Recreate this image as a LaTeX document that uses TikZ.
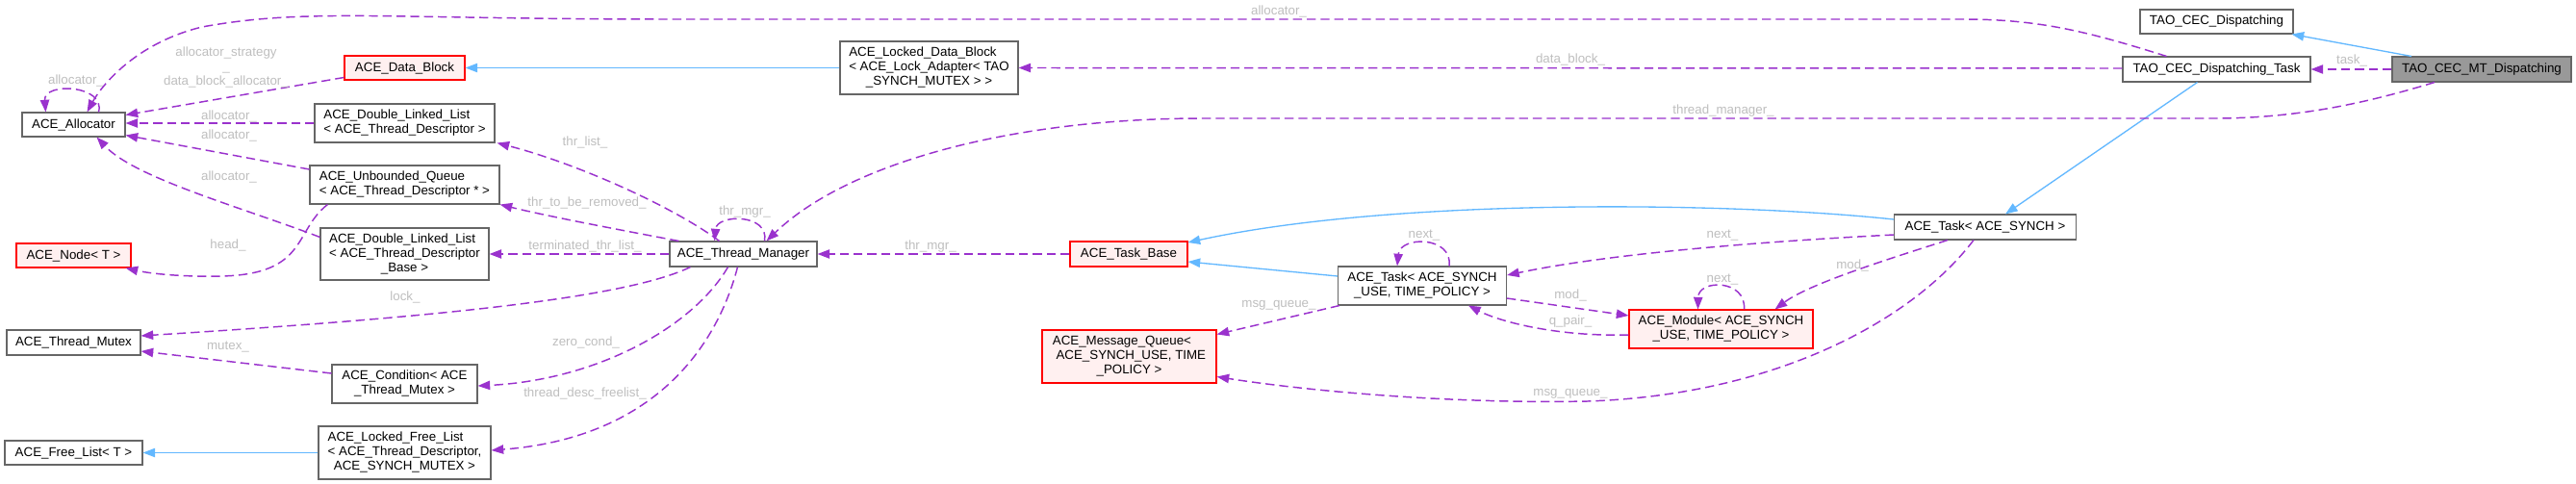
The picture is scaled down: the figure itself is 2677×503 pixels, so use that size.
\documentclass[tikz,border=0pt]{standalone}
\usepackage{fontspec}
\setmainfont{Liberation Sans}
\usetikzlibrary{arrows.meta,calc}
\definecolor{edgep}{HTML}{9A32CD}
\definecolor{edgeb}{HTML}{63B8FF}
\definecolor{bord}{HTML}{666666}
\definecolor{redfill}{HTML}{FFF0F0}
\definecolor{focusfill}{HTML}{999999}
\definecolor{lblc}{HTML}{BEBEBE}
\newcommand{\mlab}[2]{\begin{tabular}{@{}l@{}}#1\\\multicolumn{1}{@{}c@{}}{#2}\end{tabular}}
\begin{document}
\begin{tikzpicture}[x=0.75pt,y=-0.75pt,
  cls/.style={draw=bord, fill=white, line width=0.8pt, inner sep=0pt, font=\fontsize{10pt}{11.25pt}\selectfont},
  redcls/.style={cls, draw=red, fill=redfill},
  focuscls/.style={cls, fill=focusfill},
  sz/.style 2 args={minimum width=#1*0.75pt, minimum height=#2*0.75pt},
  lbl/.style={text=lblc, inner sep=0pt, align=center, font=\fontsize{10pt}{11pt}\selectfont},
  usage/.style={draw=edgep, line width=1.1pt, dash pattern=on 7pt off 3.75pt, -{Triangle[length=9.5pt,width=7pt]}},
  inherit/.style={draw=edgeb, line width=1pt, -{Triangle[length=9.5pt,width=7pt]}}]
\useasboundingbox (0,0) rectangle (2677,503);

% nodes
\node[cls,sz={107}{25}] (alloc) at (76.5,129.5) {ACE\_Allocator};
\node[redcls,sz={125}{25}] (datablock) at (420.5,70.5) {ACE\_Data\_Block};
\node[cls,sz={187}{40}] (dll1) at (420.5,128) {\mlab{ACE\_Double\_Linked\_List}{< ACE\_Thread\_Descriptor >}};
\node[cls,sz={197}{40}] (uq) at (420.5,192) {\mlab{ACE\_Unbounded\_Queue}{< ACE\_Thread\_Descriptor * >}};
\node[cls,sz={175}{54}] (dll2) at (420.5,264) {\mlab{ACE\_Double\_Linked\_List\\< ACE\_Thread\_Descriptor}{\_Base >}};
\node[redcls,sz={119}{25}] (acenode) at (76.5,265.5) {ACE\_Node< T >};
\node[cls,sz={139}{26}] (mutex) at (76.5,356) {ACE\_Thread\_Mutex};
\node[cls,sz={151}{40}] (cond) at (420.5,399) {\mlab{ACE\_Condition< ACE}{\_Thread\_Mutex >}};
\node[cls,sz={143}{25}] (freelist) at (76.5,470.5) {ACE\_Free\_List< T >};
\node[cls,sz={179}{55}] (lfl) at (420.5,470.5) {\mlab{ACE\_Locked\_Free\_List\\< ACE\_Thread\_Descriptor,}{ ACE\_SYNCH\_MUTEX >}};
\node[cls,sz={185}{55}] (ldb) at (965.5,70.5) {\mlab{ACE\_Locked\_Data\_Block\\< ACE\_Lock\_Adapter< TAO}{\_SYNCH\_MUTEX > >}};
\node[cls,sz={153}{26}] (tm) at (772.5,264) {ACE\_Thread\_Manager};
\node[redcls,sz={122}{26}] (taskbase) at (1173,264) {ACE\_Task\_Base};
\node[redcls,sz={181}{55}] (mq) at (1173.5,370.5) {\mlab{ACE\_Message\_Queue<\\\ ACE\_SYNCH\_USE, TIME}{\_POLICY >}};
\node[cls,sz={175}{40}] (task2) at (1478,297) {\mlab{ACE\_Task< ACE\_SYNCH}{\_USE, TIME\_POLICY >}};
\node[redcls,sz={191}{40}] (module) at (1788.5,342) {\mlab{ACE\_Module< ACE\_SYNCH}{\_USE, TIME\_POLICY >}};
\node[cls,sz={159}{25}] (disp) at (2303.5,22.5) {TAO\_CEC\_Dispatching};
\node[cls,sz={195}{26}] (disptask) at (2303.5,72) {TAO\_CEC\_Dispatching\_Task};
\node[focuscls,sz={186}{26}] (mt) at (2579,72) {TAO\_CEC\_MT\_Dispatching};
\node[cls,sz={189}{26}] (task1) at (2063,236) {ACE\_Task< ACE\_SYNCH >};

% inheritance
\draw[inherit] (ldb.west) -- (datablock.east);
\draw[inherit] (lfl.west) -- (freelist.east);
\draw[inherit] ($(mt.north)+(-73,0)$) -- ($(disp.south east)+(-2,0)$);
\draw[inherit] ($(disptask.south)+(-20,0)$) -- ($(task1.north)+(21,0)$);
\draw[inherit] ($(task1.west)+(0,-8)$) .. controls (1800,210) and (1450,205) .. ($(taskbase.east)+(0,-12)$);
\draw[inherit] ($(task2.west)+(0,-10)$) -- ($(taskbase.east)+(0,8)$);

% usage edges
\draw[usage] ($(alloc.north)+(26,0)$) .. controls (110,88) and (45,85) .. ($(alloc.north)+(-29,0)$);
\node[lbl] (l1) at (79,84) {allocator\_};

\draw[usage] ($(disptask.north)+(-52,0)$) .. controls (2170,33) and (2120,20) .. (2040,20) -- (700,20)
   .. controls (400,20) and (320,8) .. (210,28) .. controls (140,45) and (105,90) .. ($(alloc.north)+(14,0)$);
\node[lbl] (l2) at (1329,12) {allocator\_};

\draw[usage] ($(datablock.west)+(0,10)$) -- ($(alloc.east)+(0,-10)$);
\node[lbl] (l3) at (235,70) {allocator\_strategy\\\_\\data\_block\_allocator\_};

\draw[usage] (dll1.west) -- ($(alloc.east)+(0,-1.5)$);
\node[lbl] (l4) at (238,121) {allocator\_};

\draw[usage] ($(uq.west)+(0,-16)$) -- ($(alloc.south east)+(0,-2)$);
\node[lbl] (l5) at (238,141) {allocator\_};

\draw[usage] ($(dll2.north west)+(0,10)$) .. controls (250,215) and (140,185) .. ($(alloc.south)+(24,0)$);
\node[lbl] (l6) at (238,184) {allocator\_};

\draw[usage] ($(uq.south west)+(19,0)$) .. controls (305,240) and (320,285) .. (230,287) .. controls (180,288) and (150,283) .. ($(acenode.south east)+(-6,0)$);
\node[lbl] (l7) at (237,255) {head\_};

\draw[usage] ($(tm.north)+(-25,0)$) .. controls (700,215) and (600,170) .. ($(dll1.south east)+(2,0)$);
\node[lbl] (l8) at (608,148) {thr\_list\_};

\draw[usage] ($(tm.north west)+(10,0)$) .. controls (650,240) and (570,225) .. (uq.south east);
\node[lbl] (l9) at (610,211) {thr\_to\_be\_removed\_};

\draw[usage] (tm.west) -- (dll2.east);
\node[lbl] (l10) at (608,256) {terminated\_thr\_list\_};

\draw[usage] ($(tm.south west)+(22,0)$) .. controls (650,310) and (450,330) .. ($(mutex.east)+(0,-7)$);
\node[lbl] (l11) at (421,309) {lock\_};

\draw[usage] ($(cond.west)+(0,-11)$) -- ($(mutex.east)+(0,9)$);
\node[lbl] (l12) at (237,361) {mutex\_};

\draw[usage] ($(tm.south)+(-16,0)$) .. controls (720,340) and (620,395) .. ($(cond.east)+(0,2)$);
\node[lbl] (l13) at (609,356) {zero\_cond\_};

\draw[usage] ($(tm.south)+(-6,0)$) .. controls (745,360) and (680,455) .. ($(lfl.east)+(0,-2.5)$);
\node[lbl] (l14) at (608,409) {thread\_desc\_freelist\_};

\draw[usage] ($(tm.north)+(22,0)$) .. controls (800,222) and (745,222) .. ($(tm.north)+(-30,0)$);
\node[lbl] (l15) at (774,220) {thr\_mgr\_};

\draw[usage] (taskbase.west) -- (tm.east);
\node[lbl] (l16) at (967,256) {thr\_mgr\_};

\draw[usage] ($(mt.south)+(-49,0)$) .. controls (2450,110) and (2380,123) .. (2300,123) -- (1250,123)
   .. controls (1050,123) and (880,170) .. ($(tm.north east)+(-53,0)$);
\node[lbl] (l17) at (1791,115) {thread\_manager\_};

\draw[usage] ($(disptask.west)+(0,-1)$) -- (ldb.east);
\node[lbl] (l18) at (1632,62) {data\_block\_};

\draw[usage] (mt.west) -- (disptask.east);
\node[lbl] (l19) at (2444,63) {task\_};

\draw[usage] ($(task1.west)+(0,8)$) .. controls (1850,250) and (1680,262) .. ($(task2.east)+(0,-11)$);
\node[lbl] (l20) at (1790,245) {next\_};

\draw[usage] ($(task1.south)+(-39,0)$) .. controls (1960,270) and (1880,295) .. ($(module.north east)+(-40,0)$);
\node[lbl] (l21) at (1925,276) {mod\_};

\draw[usage] ($(task1.south)+(-12,0)$) .. controls (1990,330) and (1850,410) .. (1650,417) .. controls (1500,420) and (1350,405) .. ($(mq.east)+(0,21)$);
\node[lbl] (l22) at (1632,409) {msg\_queue\_};

\draw[usage] ($(task2.north)+(28,0)$) .. controls (1510,245) and (1455,245) .. ($(task2.north)+(-26,0)$);
\node[lbl] (l23) at (1480,245) {next\_};

\draw[usage] ($(task2.east)+(0,13)$) -- ($(module.west)+(0,-14)$);
\node[lbl] (l24) at (1632,307) {mod\_};

\draw[usage] ($(module.west)+(0,6)$) .. controls (1620,350) and (1560,335) .. ($(task2.south)+(48,0)$);
\node[lbl] (l25) at (1632,334) {q\_pair\_};

\draw[usage] ($(module.north)+(24,0)$) .. controls (1815,290) and (1765,290) .. ($(module.north)+(-24,0)$);
\node[lbl] (l26) at (1790,291) {next\_};

\draw[usage] ($(task2.south west)+(2,0)$) -- ($(mq.east)+(0,-23)$);
\node[lbl] (l27) at (1329,317) {msg\_queue\_};
\end{tikzpicture}
\end{document}
